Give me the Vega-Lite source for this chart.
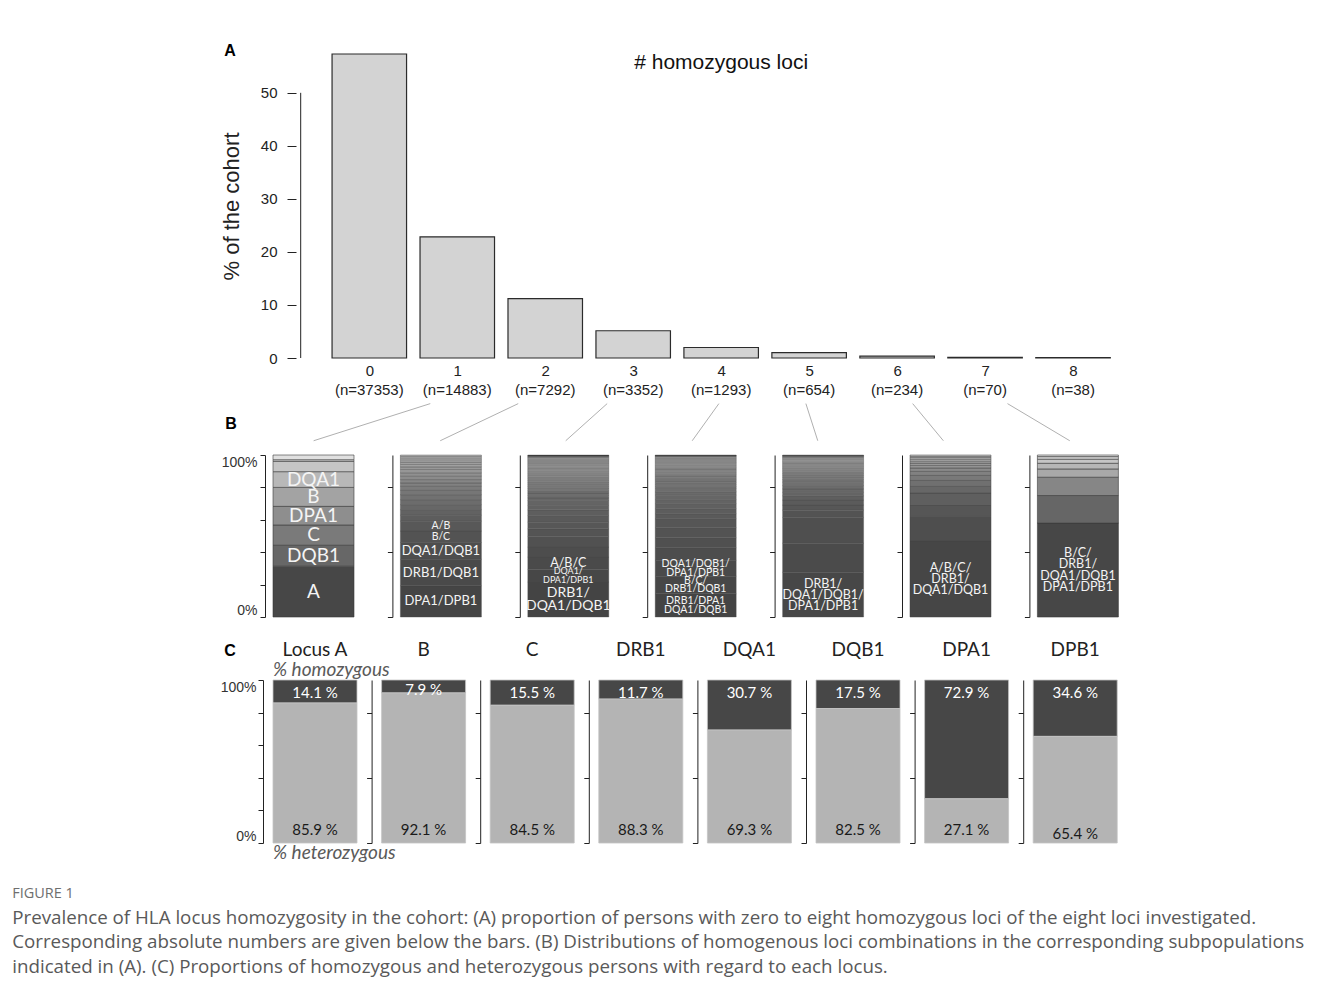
{
  "$schema": "https://vega.github.io/schema/vega-lite/v6.json",
  "padding": {"left": 12, "top": 42, "right": 5, "bottom": 5},
  "background": "white",
  "config": {
    "view": {"stroke": null},
    "font": "Liberation Sans",
    "axis": {"grid": false, "domainColor": "#222", "tickColor": "#222", "labelColor": "#222", "labelFont": "Liberation Sans", "titleFont": "Liberation Sans", "titleColor": "#222", "labelOverlap": false},
    "title": {"font": "Lato", "fontSize": 19, "fontWeight": "normal", "color": "#222", "offset": 20}
  },
  "title": {
    "text": "FIGURE 1",
    "subtitle": [
      "Prevalence of HLA locus homozygosity in the cohort: (A) proportion of persons with zero to eight homozygous loci of the eight loci investigated.",
      "Corresponding absolute numbers are given below the bars. (B) Distributions of homogenous loci combinations in the corresponding subpopulations",
      "indicated in (A). (C) Proportions of homozygous and heterozygous persons with regard to each locus."
    ],
    "orient": "bottom", "anchor": "start", "frame": "bounds", "dx": -208, "offset": 24,
    "font": "Open Sans", "fontSize": 14.5, "fontWeight": "normal", "color": "#6e6e6e",
    "subtitleFont": "Open Sans", "subtitleFontSize": 18.75, "subtitleColor": "#595959", "subtitleLineHeight": 24.5, "subtitlePadding": 7
  },
  "datasets": {
    "hist": [
      {"k": 0, "pct": 57.32, "n": 37353, "nlab": "(n=37353)"},
      {"k": 1, "pct": 22.84, "n": 14883, "nlab": "(n=14883)"},
      {"k": 2, "pct": 11.19, "n": 7292, "nlab": "(n=7292)"},
      {"k": 3, "pct": 5.14, "n": 3352, "nlab": "(n=3352)"},
      {"k": 4, "pct": 1.98, "n": 1293, "nlab": "(n=1293)"},
      {"k": 5, "pct": 1.00, "n": 654, "nlab": "(n=654)"},
      {"k": 6, "pct": 0.36, "n": 234, "nlab": "(n=234)"},
      {"k": 7, "pct": 0.11, "n": 70, "nlab": "(n=70)"},
      {"k": 8, "pct": 0.06, "n": 38, "nlab": "(n=38)"}
    ],
    "links": [
      {"k": 1, "from": 0.693, "to": -0.633},
      {"k": 2, "from": 1.693, "to": 0.806},
      {"k": 3, "from": 2.704, "to": 2.233},
      {"k": 4, "from": 3.974, "to": 3.671},
      {"k": 5, "from": 4.963, "to": 5.098},
      {"k": 6, "from": 6.177, "to": 6.526},
      {"k": 7, "from": 7.255, "to": 7.963}
    ],
    "segB": [
      {"p": 1, "i": 1, "v": 31.4, "label": "A"},
      {"p": 1, "i": 2, "v": 12.9, "label": "DQB1"},
      {"p": 1, "i": 3, "v": 12.5, "label": "C"},
      {"p": 1, "i": 4, "v": 11.5, "label": "DPA1"},
      {"p": 1, "i": 5, "v": 11.7, "label": "B"},
      {"p": 1, "i": 6, "v": 9.7, "label": "DQA1"},
      {"p": 1, "i": 7, "v": 6.4, "label": ""},
      {"p": 1, "i": 8, "v": 1.0, "label": ""},
      {"p": 1, "i": 9, "v": 2.9, "label": ""},

      {"p": 2, "i": 1, "v": 19.5, "label": "DPA1/DPB1"},
      {"p": 2, "i": 2, "v": 16.4, "label": "DRB1/DQB1"},
      {"p": 2, "i": 3, "v": 10.5, "label": "DQA1/DQB1"},
      {"p": 2, "i": 4, "v": 7.1, "label": "B/C"},
      {"p": 2, "i": 5, "v": 6.2, "label": "A/B"},
      {"p": 2, "i": 6, "v": 3.7, "label": ""},
      {"p": 2, "i": 7, "v": 3.5, "label": ""},
      {"p": 2, "i": 8, "v": 3.1, "label": ""},
      {"p": 2, "i": 9, "v": 3.1, "label": ""},
      {"p": 2, "i": 10, "v": 3.1, "label": ""},
      {"p": 2, "i": 11, "v": 2.7, "label": ""},
      {"p": 2, "i": 12, "v": 2.5, "label": ""},
      {"p": 2, "i": 13, "v": 2.1, "label": ""},
      {"p": 2, "i": 14, "v": 2.1, "label": ""},
      {"p": 2, "i": 15, "v": 2.1, "label": ""},
      {"p": 2, "i": 16, "v": 2.1, "label": ""},
      {"p": 2, "i": 17, "v": 2.1, "label": ""},
      {"p": 2, "i": 18, "v": 1.6, "label": ""},
      {"p": 2, "i": 19, "v": 1.6, "label": ""},
      {"p": 2, "i": 20, "v": 1.4, "label": ""},
      {"p": 2, "i": 21, "v": 1.4, "label": ""},
      {"p": 2, "i": 22, "v": 1.2, "label": ""},
      {"p": 2, "i": 23, "v": 1.0, "label": ""},
      {"p": 2, "i": 24, "v": 0.8, "label": ""},

      {"p": 3, "i": 1, "v": 21.6, "label": "DRB1/\nDQA1/DQB1"},
      {"p": 3, "i": 2, "v": 7.8, "label": "DQA1/\nDPA1/DPB1"},
      {"p": 3, "i": 3, "v": 7.6, "label": "A/B/C"},
      {"p": 3, "i": 4, "v": 6.2, "label": ""},
      {"p": 3, "i": 5, "v": 6.6, "label": ""},
      {"p": 3, "i": 6, "v": 4.7, "label": ""},
      {"p": 3, "i": 7, "v": 4.1, "label": ""},
      {"p": 3, "i": 8, "v": 4.1, "label": ""},
      {"p": 3, "i": 9, "v": 3.5, "label": ""},
      {"p": 3, "i": 10, "v": 2.7, "label": ""},
      {"p": 3, "i": 11, "v": 3.1, "label": ""},
      {"p": 3, "i": 12, "v": 1.6, "label": ""},
      {"p": 3, "i": 13, "v": 1.5, "label": ""},
      {"p": 3, "i": 14, "v": 1.5, "label": ""},
      {"p": 3, "i": 15, "v": 1.4, "label": ""},
      {"p": 3, "i": 16, "v": 1.4, "label": ""},
      {"p": 3, "i": 17, "v": 1.3, "label": ""},
      {"p": 3, "i": 18, "v": 1.3, "label": ""},
      {"p": 3, "i": 19, "v": 1.2, "label": ""},
      {"p": 3, "i": 20, "v": 1.2, "label": ""},
      {"p": 3, "i": 21, "v": 1.1, "label": ""},
      {"p": 3, "i": 22, "v": 1.1, "label": ""},
      {"p": 3, "i": 23, "v": 1.0, "label": ""},
      {"p": 3, "i": 24, "v": 1.0, "label": ""},
      {"p": 3, "i": 25, "v": 0.9, "label": ""},
      {"p": 3, "i": 26, "v": 0.9, "label": ""},
      {"p": 3, "i": 27, "v": 0.9, "label": ""},
      {"p": 3, "i": 28, "v": 0.8, "label": ""},
      {"p": 3, "i": 29, "v": 0.8, "label": ""},
      {"p": 3, "i": 30, "v": 0.8, "label": ""},
      {"p": 3, "i": 31, "v": 0.7, "label": ""},
      {"p": 3, "i": 32, "v": 0.7, "label": ""},
      {"p": 3, "i": 33, "v": 0.7, "label": ""},
      {"p": 3, "i": 34, "v": 0.6, "label": ""},
      {"p": 3, "i": 35, "v": 0.6, "label": ""},
      {"p": 3, "i": 36, "v": 0.6, "label": ""},
      {"p": 3, "i": 37, "v": 0.5, "label": ""},
      {"p": 3, "i": 38, "v": 0.5, "label": ""},
      {"p": 3, "i": 39, "v": 0.5, "label": ""},
      {"p": 3, "i": 40, "v": 0.5, "label": ""},
      {"p": 3, "i": 41, "v": 0.5, "label": ""},

      {"p": 4, "i": 1, "v": 14.4, "label": "DRB1/DPA1\nDQA1/DQB1"},
      {"p": 4, "i": 2, "v": 10.7, "label": "B/C/\nDRB1/DQB1"},
      {"p": 4, "i": 3, "v": 9.9, "label": "DQA1/DQB1/\nDPA1/DPB1"},
      {"p": 4, "i": 4, "v": 7.8, "label": ""},
      {"p": 4, "i": 5, "v": 6.2, "label": ""},
      {"p": 4, "i": 6, "v": 6.2, "label": ""},
      {"p": 4, "i": 7, "v": 5.5, "label": ""},
      {"p": 4, "i": 8, "v": 3.1, "label": ""},
      {"p": 4, "i": 9, "v": 3.1, "label": ""},
      {"p": 4, "i": 10, "v": 3.1, "label": ""},
      {"p": 4, "i": 11, "v": 2.5, "label": ""},
      {"p": 4, "i": 12, "v": 2.7, "label": ""},
      {"p": 4, "i": 13, "v": 2.1, "label": ""},
      {"p": 4, "i": 14, "v": 2.1, "label": ""},
      {"p": 4, "i": 15, "v": 1.2, "label": ""},
      {"p": 4, "i": 16, "v": 1.2, "label": ""},
      {"p": 4, "i": 17, "v": 1.1, "label": ""},
      {"p": 4, "i": 18, "v": 1.1, "label": ""},
      {"p": 4, "i": 19, "v": 1.0, "label": ""},
      {"p": 4, "i": 20, "v": 1.0, "label": ""},
      {"p": 4, "i": 21, "v": 1.0, "label": ""},
      {"p": 4, "i": 22, "v": 0.9, "label": ""},
      {"p": 4, "i": 23, "v": 0.9, "label": ""},
      {"p": 4, "i": 24, "v": 0.9, "label": ""},
      {"p": 4, "i": 25, "v": 0.8, "label": ""},
      {"p": 4, "i": 26, "v": 0.8, "label": ""},
      {"p": 4, "i": 27, "v": 0.8, "label": ""},
      {"p": 4, "i": 28, "v": 0.7, "label": ""},
      {"p": 4, "i": 29, "v": 0.7, "label": ""},
      {"p": 4, "i": 30, "v": 0.7, "label": ""},
      {"p": 4, "i": 31, "v": 0.7, "label": ""},
      {"p": 4, "i": 32, "v": 0.6, "label": ""},
      {"p": 4, "i": 33, "v": 0.6, "label": ""},
      {"p": 4, "i": 34, "v": 0.6, "label": ""},
      {"p": 4, "i": 35, "v": 0.6, "label": ""},
      {"p": 4, "i": 36, "v": 0.5, "label": ""},
      {"p": 4, "i": 37, "v": 0.5, "label": ""},
      {"p": 4, "i": 38, "v": 0.5, "label": ""},
      {"p": 4, "i": 39, "v": 0.5, "label": ""},
      {"p": 4, "i": 40, "v": 0.4, "label": ""},
      {"p": 4, "i": 41, "v": 0.3, "label": ""},

      {"p": 5, "i": 1, "v": 27.7, "label": "DRB1/\nDQA1/DQB1/\nDPA1/DPB1"},
      {"p": 5, "i": 2, "v": 17.9, "label": ""},
      {"p": 5, "i": 3, "v": 16.0, "label": ""},
      {"p": 5, "i": 4, "v": 4.5, "label": ""},
      {"p": 5, "i": 5, "v": 3.1, "label": ""},
      {"p": 5, "i": 6, "v": 3.1, "label": ""},
      {"p": 5, "i": 7, "v": 2.7, "label": ""},
      {"p": 5, "i": 8, "v": 2.1, "label": ""},
      {"p": 5, "i": 9, "v": 2.1, "label": ""},
      {"p": 5, "i": 10, "v": 2.1, "label": ""},
      {"p": 5, "i": 11, "v": 2.1, "label": ""},
      {"p": 5, "i": 12, "v": 1.6, "label": ""},
      {"p": 5, "i": 13, "v": 1.4, "label": ""},
      {"p": 5, "i": 14, "v": 1.2, "label": ""},
      {"p": 5, "i": 15, "v": 1.1, "label": ""},
      {"p": 5, "i": 16, "v": 1.1, "label": ""},
      {"p": 5, "i": 17, "v": 1.0, "label": ""},
      {"p": 5, "i": 18, "v": 1.0, "label": ""},
      {"p": 5, "i": 19, "v": 0.9, "label": ""},
      {"p": 5, "i": 20, "v": 0.9, "label": ""},
      {"p": 5, "i": 21, "v": 0.8, "label": ""},
      {"p": 5, "i": 22, "v": 0.8, "label": ""},
      {"p": 5, "i": 23, "v": 0.8, "label": ""},
      {"p": 5, "i": 24, "v": 0.7, "label": ""},
      {"p": 5, "i": 25, "v": 0.7, "label": ""},
      {"p": 5, "i": 26, "v": 0.6, "label": ""},
      {"p": 5, "i": 27, "v": 0.6, "label": ""},
      {"p": 5, "i": 28, "v": 0.5, "label": ""},
      {"p": 5, "i": 29, "v": 0.4, "label": ""},
      {"p": 5, "i": 30, "v": 0.4, "label": ""},
      {"p": 5, "i": 31, "v": 0.3, "label": ""},

      {"p": 6, "i": 1, "v": 46.8, "label": "A/B/C/\nDRB1/\nDQA1/DQB1"},
      {"p": 6, "i": 2, "v": 15.2, "label": ""},
      {"p": 6, "i": 3, "v": 7.2, "label": ""},
      {"p": 6, "i": 4, "v": 7.2, "label": ""},
      {"p": 6, "i": 5, "v": 4.1, "label": ""},
      {"p": 6, "i": 6, "v": 3.7, "label": ""},
      {"p": 6, "i": 7, "v": 3.1, "label": ""},
      {"p": 6, "i": 8, "v": 2.5, "label": ""},
      {"p": 6, "i": 9, "v": 2.1, "label": ""},
      {"p": 6, "i": 10, "v": 1.6, "label": ""},
      {"p": 6, "i": 11, "v": 1.4, "label": ""},
      {"p": 6, "i": 12, "v": 1.2, "label": ""},
      {"p": 6, "i": 13, "v": 1.2, "label": ""},
      {"p": 6, "i": 14, "v": 1.0, "label": ""},
      {"p": 6, "i": 15, "v": 0.8, "label": ""},
      {"p": 6, "i": 16, "v": 0.8, "label": ""},

      {"p": 7, "i": 1, "v": 57.9, "label": "B/C/\nDRB1/\nDQA1/DQB1\nDPA1/DPB1"},
      {"p": 7, "i": 2, "v": 17.0, "label": ""},
      {"p": 7, "i": 3, "v": 11.3, "label": ""},
      {"p": 7, "i": 4, "v": 5.1, "label": ""},
      {"p": 7, "i": 5, "v": 3.5, "label": ""},
      {"p": 7, "i": 6, "v": 2.5, "label": ""},
      {"p": 7, "i": 7, "v": 1.6, "label": ""},
      {"p": 7, "i": 8, "v": 1.0, "label": ""}
    ],
    "loci": [
      {"locus": "A", "status": "hom", "pct": 14.1, "lab": "14.1 %"},
      {"locus": "A", "status": "het", "pct": 85.9, "lab": "85.9 %"},
      {"locus": "B", "status": "hom", "pct": 7.9, "lab": "7.9 %"},
      {"locus": "B", "status": "het", "pct": 92.1, "lab": "92.1 %"},
      {"locus": "C", "status": "hom", "pct": 15.5, "lab": "15.5 %"},
      {"locus": "C", "status": "het", "pct": 84.5, "lab": "84.5 %"},
      {"locus": "DRB1", "status": "hom", "pct": 11.7, "lab": "11.7 %"},
      {"locus": "DRB1", "status": "het", "pct": 88.3, "lab": "88.3 %"},
      {"locus": "DQA1", "status": "hom", "pct": 30.7, "lab": "30.7 %"},
      {"locus": "DQA1", "status": "het", "pct": 69.3, "lab": "69.3 %"},
      {"locus": "DQB1", "status": "hom", "pct": 17.5, "lab": "17.5 %"},
      {"locus": "DQB1", "status": "het", "pct": 82.5, "lab": "82.5 %"},
      {"locus": "DPA1", "status": "hom", "pct": 72.9, "lab": "72.9 %"},
      {"locus": "DPA1", "status": "het", "pct": 27.1, "lab": "27.1 %"},
      {"locus": "DPB1", "status": "hom", "pct": 34.6, "lab": "34.6 %"},
      {"locus": "DPB1", "status": "het", "pct": 65.4, "lab": "65.4 %"}
    ]
  },
  "spacing": -27,
  "vconcat": [
    {
      "width": 871,
      "height": 304,
      "title": {"text": "A", "anchor": "start", "frame": "bounds", "font": "Liberation Sans", "fontSize": 16, "fontWeight": "bold", "color": "#000", "offset": -7, "dx": 4},
      "layer": [
        {
          "data": {"name": "hist"},
          "mark": {"type": "bar", "orient": "vertical", "width": 74.5, "fill": "#d3d3d3", "stroke": "#2b2b2b", "strokeWidth": 1.2},
          "encoding": {
            "x": {"field": "k", "type": "quantitative", "scale": {"domain": [-1.038, 8.75], "nice": false, "zero": false},
                  "axis": {"values": [0, 1, 2, 3, 4, 5, 6, 7, 8], "format": "d", "domain": false, "ticks": false, "tickSize": 0, "labelPadding": 5, "labelFontSize": 15, "title": null}},
            "y": {"field": "pct", "type": "quantitative", "scale": {"domain": [0, 57.32], "nice": false},
                  "axis": {"values": [0, 10, 20, 30, 40, 50], "offset": -23, "domain": false, "tickSize": 9, "labelPadding": 10, "labelFontSize": 15, "title": "% of the cohort", "titleFontSize": 22, "titleFontWeight": "normal", "titlePadding": 17}}
          }
        },
        {
          "data": {"name": "hist"},
          "mark": {"type": "text", "baseline": "middle", "dy": 32, "fontSize": 15, "color": "#222"},
          "encoding": {
            "x": {"field": "k", "type": "quantitative"},
            "y": {"datum": 0},
            "text": {"field": "nlab"}
          }
        },
        {
          "data": {"values": [{}]},
          "mark": {"type": "rule", "color": "#222", "strokeWidth": 1},
          "encoding": {
            "x": {"datum": -0.78},
            "y": {"datum": 0},
            "y2": {"datum": 50}
          }
        },
        {
          "data": {"values": [{}]},
          "mark": {"type": "text", "fontSize": 21, "color": "#111", "baseline": "middle", "font": "Liberation Sans"},
          "encoding": {
            "x": {"datum": 4},
            "y": {"datum": 55.7},
            "text": {"value": "# homozygous loci"}
          }
        },
        {
          "data": {"name": "links"},
          "mark": {"type": "rule", "color": "#b0b0b0", "strokeWidth": 1},
          "encoding": {
            "x": {"field": "from", "type": "quantitative"},
            "x2": {"field": "to"},
            "y": {"datum": -8.6},
            "y2": {"datum": -15.6}
          }
        }
      ]
    },
    {
      "spacing": 22,
      "vconcat": [
        {
          "title": {"text": "B", "anchor": "start", "frame": "bounds", "font": "Liberation Sans", "fontSize": 16, "fontWeight": "bold", "color": "#000", "offset": 1, "dx": 4},
          "data": {"name": "segB"},
          "bounds": "flush",
          "spacing": 46.4,
          "resolve": {"scale": {"color": "independent", "y": "independent", "x": "independent"}},
          "hconcat": [
            {
              "width": 81, "height": 162,
              "transform": [{"filter": "datum.p == 1"}],
              "encoding": {
                "x": {"field": "p", "type": "nominal", "axis": null, "scale": {"paddingInner": 0, "paddingOuter": 0}},
                "order": {"field": "i", "type": "quantitative"},
                "detail": {"field": "i", "type": "quantitative"}
              },
              "layer": [
                {"mark": {"type": "bar", "stroke": "#3a3a3a", "strokeWidth": 0.6},
                 "encoding": {
                   "y": {"field": "v", "type": "quantitative", "stack": "normalize", "scale": {"domain": [0, 1], "nice": false},
                         "axis": {"values": [0, 0.2, 0.4, 0.6, 0.8, 1], "labelExpr": "datum.value == 1 ? '100%' : datum.value == 0 ? '0%' : ''", "labelOverlap": false, "labelFlush": true, "offset": 8, "tickSize": 5, "labelPadding": 3, "labelFontSize": 14, "labelColor": "#333", "title": null}},
                   "color": {"field": "i", "type": "quantitative", "legend": null, "scale": {"domain": [1, 2, 6, 9], "range": ["#474747", "#676767", "#b8b8b8", "#e0e0e0"]}}}},
                {"mark": {"type": "text", "font": "Lato", "fontSize": 19, "color": "#f4f4f4", "lineBreak": "\n", "lineHeight": 17, "baseline": "middle"},
                 "encoding": {
                   "y": {"field": "v", "type": "quantitative", "stack": "normalize", "bandPosition": 0.5,
                         "axis": {"values": [0, 0.2, 0.4, 0.6, 0.8, 1], "labelExpr": "datum.value == 1 ? '100%' : datum.value == 0 ? '0%' : ''", "labelOverlap": false, "labelFlush": true, "offset": 8, "tickSize": 5, "labelPadding": 3, "labelFontSize": 14, "labelColor": "#333", "title": null}},
                   "text": {"field": "label"}}}
              ]
            },
            {
              "width": 81, "height": 162,
              "transform": [{"filter": "datum.p == 2"}],
              "encoding": {
                "x": {"field": "p", "type": "nominal", "axis": null, "scale": {"paddingInner": 0, "paddingOuter": 0}},
                "order": {"field": "i", "type": "quantitative"},
                "detail": {"field": "i", "type": "quantitative"}
              },
              "layer": [
                {"mark": {"type": "bar", "stroke": "#484848", "strokeWidth": 0.4},
                 "encoding": {
                   "y": {"field": "v", "type": "quantitative", "stack": "normalize", "scale": {"domain": [0, 1], "nice": false},
                         "axis": {"values": [0, 0.2, 0.4, 0.6, 0.8, 1], "labels": false, "offset": 8, "tickSize": 5, "title": null}},
                   "color": {"field": "i", "type": "quantitative", "legend": null, "scale": {"domain": [1, 24], "range": ["#454545", "#bcbcbc"]}}}},
                {"mark": {"type": "text", "font": "Lato", "fontSize": 13, "color": "#f4f4f4", "lineBreak": "\n", "lineHeight": 12, "baseline": "middle"},
                 "encoding": {
                   "y": {"field": "v", "type": "quantitative", "stack": "normalize", "bandPosition": 0.5},
                   "size": {"condition": {"test": "datum.i >= 4", "value": 10.5}, "value": 13},
                   "text": {"field": "label"}}}
              ]
            },
            {
              "width": 81, "height": 162,
              "transform": [{"filter": "datum.p == 3"}],
              "encoding": {
                "x": {"field": "p", "type": "nominal", "axis": null, "scale": {"paddingInner": 0, "paddingOuter": 0}},
                "order": {"field": "i", "type": "quantitative"},
                "detail": {"field": "i", "type": "quantitative"}
              },
              "layer": [
                {"mark": {"type": "bar", "stroke": "#4a4a4a", "strokeWidth": 0.35},
                 "encoding": {
                   "y": {"field": "v", "type": "quantitative", "stack": "normalize", "scale": {"domain": [0, 1], "nice": false},
                         "axis": {"values": [0, 0.2, 0.4, 0.6, 0.8, 1], "labels": false, "offset": 8, "tickSize": 5, "title": null}},
                   "color": {"field": "i", "type": "quantitative", "legend": null, "scale": {"domain": [1, 38, 41], "range": ["#444444", "#c4c4c4", "#0d0d0d"]}}}},
                {"mark": {"type": "text", "font": "Lato", "fontSize": 14, "color": "#f4f4f4", "lineBreak": "\n", "lineHeight": 13.5, "baseline": "middle", "dy": -6.75},
                 "encoding": {
                   "y": {"field": "v", "type": "quantitative", "stack": "normalize", "bandPosition": 0.5},
                   "text": {"condition": {"test": "datum.i == 1", "field": "label", "type": "nominal"}, "value": ""}}},
                {"mark": {"type": "text", "font": "Lato", "fontSize": 9, "color": "#f4f4f4", "lineBreak": "\n", "lineHeight": 8.5, "baseline": "middle", "dy": -4.25},
                 "encoding": {
                   "y": {"field": "v", "type": "quantitative", "stack": "normalize", "bandPosition": 0.5},
                   "text": {"condition": {"test": "datum.i == 2", "field": "label", "type": "nominal"}, "value": ""}}},
                {"mark": {"type": "text", "font": "Lato", "fontSize": 12.5, "color": "#f4f4f4", "baseline": "middle"},
                 "encoding": {
                   "y": {"field": "v", "type": "quantitative", "stack": "normalize", "bandPosition": 0.5},
                   "text": {"condition": {"test": "datum.i == 3", "field": "label", "type": "nominal"}, "value": ""}}}
              ]
            },
            {
              "width": 81, "height": 162,
              "transform": [{"filter": "datum.p == 4"}],
              "encoding": {
                "x": {"field": "p", "type": "nominal", "axis": null, "scale": {"paddingInner": 0, "paddingOuter": 0}},
                "order": {"field": "i", "type": "quantitative"},
                "detail": {"field": "i", "type": "quantitative"}
              },
              "layer": [
                {"mark": {"type": "bar", "stroke": "#4a4a4a", "strokeWidth": 0.35},
                 "encoding": {
                   "y": {"field": "v", "type": "quantitative", "stack": "normalize", "scale": {"domain": [0, 1], "nice": false},
                         "axis": {"values": [0, 0.2, 0.4, 0.6, 0.8, 1], "labels": false, "offset": 8, "tickSize": 5, "title": null}},
                   "color": {"field": "i", "type": "quantitative", "legend": null, "scale": {"domain": [1, 38, 41], "range": ["#444444", "#c0c0c0", "#0d0d0d"]}}}},
                {"mark": {"type": "text", "font": "Lato", "fontSize": 10.5, "color": "#f4f4f4", "lineBreak": "\n", "lineHeight": 8.5, "baseline": "middle", "dy": -4.25},
                 "encoding": {
                   "y": {"field": "v", "type": "quantitative", "stack": "normalize", "bandPosition": 0.5},
                   "text": {"field": "label"}}}
              ]
            },
            {
              "width": 81, "height": 162,
              "transform": [{"filter": "datum.p == 5"}],
              "encoding": {
                "x": {"field": "p", "type": "nominal", "axis": null, "scale": {"paddingInner": 0, "paddingOuter": 0}},
                "order": {"field": "i", "type": "quantitative"},
                "detail": {"field": "i", "type": "quantitative"}
              },
              "layer": [
                {"mark": {"type": "bar", "stroke": "#4a4a4a", "strokeWidth": 0.35},
                 "encoding": {
                   "y": {"field": "v", "type": "quantitative", "stack": "normalize", "scale": {"domain": [0, 1], "nice": false},
                         "axis": {"values": [0, 0.2, 0.4, 0.6, 0.8, 1], "labels": false, "offset": 8, "tickSize": 5, "title": null}},
                   "color": {"field": "i", "type": "quantitative", "legend": null, "scale": {"domain": [1, 27, 31], "range": ["#474747", "#b8b8b8", "#2a2a2a"]}}}},
                {"mark": {"type": "text", "font": "Lato", "fontSize": 12.5, "color": "#f4f4f4", "lineBreak": "\n", "lineHeight": 11, "baseline": "middle", "dy": -11},
                 "encoding": {
                   "y": {"field": "v", "type": "quantitative", "stack": "normalize", "bandPosition": 0.5},
                   "text": {"field": "label"}}}
              ]
            },
            {
              "width": 81, "height": 162,
              "transform": [{"filter": "datum.p == 6"}],
              "encoding": {
                "x": {"field": "p", "type": "nominal", "axis": null, "scale": {"paddingInner": 0, "paddingOuter": 0}},
                "order": {"field": "i", "type": "quantitative"},
                "detail": {"field": "i", "type": "quantitative"}
              },
              "layer": [
                {"mark": {"type": "bar", "stroke": "#444444", "strokeWidth": 0.5},
                 "encoding": {
                   "y": {"field": "v", "type": "quantitative", "stack": "normalize", "scale": {"domain": [0, 1], "nice": false},
                         "axis": {"values": [0, 0.2, 0.4, 0.6, 0.8, 1], "labels": false, "offset": 8, "tickSize": 5, "title": null}},
                   "color": {"field": "i", "type": "quantitative", "legend": null, "scale": {"domain": [1, 16], "range": ["#464646", "#cccccc"]}}}},
                {"mark": {"type": "text", "font": "Lato", "fontSize": 12.5, "color": "#f4f4f4", "lineBreak": "\n", "lineHeight": 11, "baseline": "middle", "dy": -11},
                 "encoding": {
                   "y": {"field": "v", "type": "quantitative", "stack": "normalize", "bandPosition": 0.5},
                   "text": {"field": "label"}}}
              ]
            },
            {
              "width": 81, "height": 162,
              "transform": [{"filter": "datum.p == 7"}],
              "encoding": {
                "x": {"field": "p", "type": "nominal", "axis": null, "scale": {"paddingInner": 0, "paddingOuter": 0}},
                "order": {"field": "i", "type": "quantitative"},
                "detail": {"field": "i", "type": "quantitative"}
              },
              "layer": [
                {"mark": {"type": "bar", "stroke": "#3a3a3a", "strokeWidth": 0.6},
                 "encoding": {
                   "y": {"field": "v", "type": "quantitative", "stack": "normalize", "scale": {"domain": [0, 1], "nice": false},
                         "axis": {"values": [0, 0.2, 0.4, 0.6, 0.8, 1], "labels": false, "offset": 8, "tickSize": 5, "title": null}},
                   "color": {"field": "i", "type": "quantitative", "legend": null, "scale": {"domain": [1, 4, 8], "range": ["#474747", "#a8a8a8", "#e2e2e2"]}}}},
                {"mark": {"type": "text", "font": "Lato", "fontSize": 12.5, "color": "#f4f4f4", "lineBreak": "\n", "lineHeight": 11.5, "baseline": "middle", "dy": -17.25},
                 "encoding": {
                   "y": {"field": "v", "type": "quantitative", "stack": "normalize", "bandPosition": 0.5},
                   "text": {"field": "label"}}}
              ]
            }
          ]
        },
        {
          "title": {"text": "C", "anchor": "start", "frame": "bounds", "font": "Liberation Sans", "fontSize": 16, "fontWeight": "bold", "color": "#000", "offset": -18, "dx": 4},
          "data": {"name": "loci"},
          "bounds": "flush",
          "spacing": 24.6,
          "resolve": {"scale": {"color": "independent", "y": "independent", "x": "independent"}},
          "hconcat": [
            {
              "width": 84, "height": 163,
              "title": {"text": "Locus A", "offset": 1},
              "transform": [{"filter": "datum.locus == 'A'"}],
              "encoding": {"x": {"field": "locus", "type": "nominal", "axis": null, "scale": {"paddingInner": 0, "paddingOuter": 0}}},
              "layer": [
                {"mark": {"type": "bar", "stroke": "#c4c4c4", "strokeWidth": 0.8},
                 "encoding": {
                   "y": {"field": "pct", "type": "quantitative", "stack": "zero", "scale": {"domain": [0, 100], "nice": false},
                         "axis": {"values": [0, 20, 40, 60, 80, 100], "labelExpr": "datum.value == 100 ? '100%' : datum.value == 0 ? '0%' : ''", "labelOverlap": false, "labelFlush": true, "offset": 10, "tickSize": 5, "labelPadding": 2, "labelFontSize": 14, "labelColor": "#333", "title": null}},
                   "color": {"field": "status", "type": "nominal", "legend": null, "scale": {"domain": ["het", "hom"], "range": ["#b4b4b4", "#474747"]}},
                   "order": {"field": "status", "type": "ordinal"}}},
                {"transform": [{"filter": "datum.status == 'hom'"}],
                 "mark": {"type": "text", "font": "Lato", "fontSize": 15, "color": "#ffffff", "baseline": "middle", "dy": 13},
                 "encoding": {"y": {"datum": 100, "axis": {"values": [0, 20, 40, 60, 80, 100], "labelExpr": "datum.value == 100 ? '100%' : datum.value == 0 ? '0%' : ''", "labelOverlap": false, "labelFlush": true, "offset": 10, "tickSize": 5, "labelPadding": 2, "labelFontSize": 14, "labelColor": "#333", "title": null}}, "text": {"field": "lab"}}},
                {"transform": [{"filter": "datum.status == 'het'"}],
                 "mark": {"type": "text", "font": "Lato", "fontSize": 15, "color": "#1a1a1a", "baseline": "middle", "dy": -13},
                 "encoding": {"y": {"datum": 0, "axis": {"values": [0, 20, 40, 60, 80, 100], "labelExpr": "datum.value == 100 ? '100%' : datum.value == 0 ? '0%' : ''", "labelOverlap": false, "labelFlush": true, "offset": 10, "tickSize": 5, "labelPadding": 2, "labelFontSize": 14, "labelColor": "#333", "title": null}}, "text": {"field": "lab"}}},
                {"transform": [{"filter": "datum.status == 'hom'"}],
                 "mark": {"type": "text", "font": "Lato", "fontStyle": "italic", "fontSize": 19, "color": "#5a5a5a", "align": "left", "baseline": "alphabetic", "dy": -4},
                 "encoding": {"x": {"field": "locus", "type": "nominal", "bandPosition": 0, "axis": null}, "y": {"datum": 100, "axis": {"values": [0, 20, 40, 60, 80, 100], "labelExpr": "datum.value == 100 ? '100%' : datum.value == 0 ? '0%' : ''", "labelOverlap": false, "labelFlush": true, "offset": 10, "tickSize": 5, "labelPadding": 2, "labelFontSize": 14, "labelColor": "#333", "title": null}}, "text": {"value": "% homozygous"}}},
                {"transform": [{"filter": "datum.status == 'het'"}],
                 "mark": {"type": "text", "font": "Lato", "fontStyle": "italic", "fontSize": 19, "color": "#5a5a5a", "align": "left", "baseline": "alphabetic", "dy": 16},
                 "encoding": {"x": {"field": "locus", "type": "nominal", "bandPosition": 0, "axis": null}, "y": {"datum": 0, "axis": {"values": [0, 20, 40, 60, 80, 100], "labelExpr": "datum.value == 100 ? '100%' : datum.value == 0 ? '0%' : ''", "labelOverlap": false, "labelFlush": true, "offset": 10, "tickSize": 5, "labelPadding": 2, "labelFontSize": 14, "labelColor": "#333", "title": null}}, "text": {"value": "% heterozygous"}}}
              ]
            },
            {
              "width": 84, "height": 163,
              "title": {"text": "B"},
              "transform": [{"filter": "datum.locus == 'B'"}],
              "encoding": {"x": {"field": "locus", "type": "nominal", "axis": null, "scale": {"paddingInner": 0, "paddingOuter": 0}}},
              "layer": [
                {"mark": {"type": "bar", "stroke": "#c4c4c4", "strokeWidth": 0.8},
                 "encoding": {
                   "y": {"field": "pct", "type": "quantitative", "stack": "zero", "scale": {"domain": [0, 100], "nice": false},
                         "axis": {"values": [0, 20, 40, 60, 80, 100], "labels": false, "offset": 10, "tickSize": 5, "title": null}},
                   "color": {"field": "status", "type": "nominal", "legend": null, "scale": {"domain": ["het", "hom"], "range": ["#b4b4b4", "#474747"]}},
                   "order": {"field": "status", "type": "ordinal"}}},
                {"transform": [{"filter": "datum.status == 'hom'"}],
                 "mark": {"type": "text", "font": "Lato", "fontSize": 15, "color": "#ffffff", "baseline": "middle", "dy": 10},
                 "encoding": {"y": {"datum": 100}, "text": {"field": "lab"}}},
                {"transform": [{"filter": "datum.status == 'het'"}],
                 "mark": {"type": "text", "font": "Lato", "fontSize": 15, "color": "#1a1a1a", "baseline": "middle", "dy": -13},
                 "encoding": {"y": {"datum": 0}, "text": {"field": "lab"}}}
              ]
            },
            {
              "width": 84, "height": 163,
              "title": {"text": "C"},
              "transform": [{"filter": "datum.locus == 'C'"}],
              "encoding": {"x": {"field": "locus", "type": "nominal", "axis": null, "scale": {"paddingInner": 0, "paddingOuter": 0}}},
              "layer": [
                {"mark": {"type": "bar", "stroke": "#c4c4c4", "strokeWidth": 0.8},
                 "encoding": {
                   "y": {"field": "pct", "type": "quantitative", "stack": "zero", "scale": {"domain": [0, 100], "nice": false},
                         "axis": {"values": [0, 20, 40, 60, 80, 100], "labels": false, "offset": 10, "tickSize": 5, "title": null}},
                   "color": {"field": "status", "type": "nominal", "legend": null, "scale": {"domain": ["het", "hom"], "range": ["#b4b4b4", "#474747"]}},
                   "order": {"field": "status", "type": "ordinal"}}},
                {"transform": [{"filter": "datum.status == 'hom'"}],
                 "mark": {"type": "text", "font": "Lato", "fontSize": 15, "color": "#ffffff", "baseline": "middle", "dy": 13},
                 "encoding": {"y": {"datum": 100}, "text": {"field": "lab"}}},
                {"transform": [{"filter": "datum.status == 'het'"}],
                 "mark": {"type": "text", "font": "Lato", "fontSize": 15, "color": "#1a1a1a", "baseline": "middle", "dy": -13},
                 "encoding": {"y": {"datum": 0}, "text": {"field": "lab"}}}
              ]
            },
            {
              "width": 84, "height": 163,
              "title": {"text": "DRB1"},
              "transform": [{"filter": "datum.locus == 'DRB1'"}],
              "encoding": {"x": {"field": "locus", "type": "nominal", "axis": null, "scale": {"paddingInner": 0, "paddingOuter": 0}}},
              "layer": [
                {"mark": {"type": "bar", "stroke": "#c4c4c4", "strokeWidth": 0.8},
                 "encoding": {
                   "y": {"field": "pct", "type": "quantitative", "stack": "zero", "scale": {"domain": [0, 100], "nice": false},
                         "axis": {"values": [0, 20, 40, 60, 80, 100], "labels": false, "offset": 10, "tickSize": 5, "title": null}},
                   "color": {"field": "status", "type": "nominal", "legend": null, "scale": {"domain": ["het", "hom"], "range": ["#b4b4b4", "#474747"]}},
                   "order": {"field": "status", "type": "ordinal"}}},
                {"transform": [{"filter": "datum.status == 'hom'"}],
                 "mark": {"type": "text", "font": "Lato", "fontSize": 15, "color": "#ffffff", "baseline": "middle", "dy": 13},
                 "encoding": {"y": {"datum": 100}, "text": {"field": "lab"}}},
                {"transform": [{"filter": "datum.status == 'het'"}],
                 "mark": {"type": "text", "font": "Lato", "fontSize": 15, "color": "#1a1a1a", "baseline": "middle", "dy": -13},
                 "encoding": {"y": {"datum": 0}, "text": {"field": "lab"}}}
              ]
            },
            {
              "width": 84, "height": 163,
              "title": {"text": "DQA1"},
              "transform": [{"filter": "datum.locus == 'DQA1'"}],
              "encoding": {"x": {"field": "locus", "type": "nominal", "axis": null, "scale": {"paddingInner": 0, "paddingOuter": 0}}},
              "layer": [
                {"mark": {"type": "bar", "stroke": "#c4c4c4", "strokeWidth": 0.8},
                 "encoding": {
                   "y": {"field": "pct", "type": "quantitative", "stack": "zero", "scale": {"domain": [0, 100], "nice": false},
                         "axis": {"values": [0, 20, 40, 60, 80, 100], "labels": false, "offset": 10, "tickSize": 5, "title": null}},
                   "color": {"field": "status", "type": "nominal", "legend": null, "scale": {"domain": ["het", "hom"], "range": ["#b4b4b4", "#474747"]}},
                   "order": {"field": "status", "type": "ordinal"}}},
                {"transform": [{"filter": "datum.status == 'hom'"}],
                 "mark": {"type": "text", "font": "Lato", "fontSize": 15, "color": "#ffffff", "baseline": "middle", "dy": 13},
                 "encoding": {"y": {"datum": 100}, "text": {"field": "lab"}}},
                {"transform": [{"filter": "datum.status == 'het'"}],
                 "mark": {"type": "text", "font": "Lato", "fontSize": 15, "color": "#1a1a1a", "baseline": "middle", "dy": -13},
                 "encoding": {"y": {"datum": 0}, "text": {"field": "lab"}}}
              ]
            },
            {
              "width": 84, "height": 163,
              "title": {"text": "DQB1"},
              "transform": [{"filter": "datum.locus == 'DQB1'"}],
              "encoding": {"x": {"field": "locus", "type": "nominal", "axis": null, "scale": {"paddingInner": 0, "paddingOuter": 0}}},
              "layer": [
                {"mark": {"type": "bar", "stroke": "#c4c4c4", "strokeWidth": 0.8},
                 "encoding": {
                   "y": {"field": "pct", "type": "quantitative", "stack": "zero", "scale": {"domain": [0, 100], "nice": false},
                         "axis": {"values": [0, 20, 40, 60, 80, 100], "labels": false, "offset": 10, "tickSize": 5, "title": null}},
                   "color": {"field": "status", "type": "nominal", "legend": null, "scale": {"domain": ["het", "hom"], "range": ["#b4b4b4", "#474747"]}},
                   "order": {"field": "status", "type": "ordinal"}}},
                {"transform": [{"filter": "datum.status == 'hom'"}],
                 "mark": {"type": "text", "font": "Lato", "fontSize": 15, "color": "#ffffff", "baseline": "middle", "dy": 13},
                 "encoding": {"y": {"datum": 100}, "text": {"field": "lab"}}},
                {"transform": [{"filter": "datum.status == 'het'"}],
                 "mark": {"type": "text", "font": "Lato", "fontSize": 15, "color": "#1a1a1a", "baseline": "middle", "dy": -13},
                 "encoding": {"y": {"datum": 0}, "text": {"field": "lab"}}}
              ]
            },
            {
              "width": 84, "height": 163,
              "title": {"text": "DPA1"},
              "transform": [{"filter": "datum.locus == 'DPA1'"}],
              "encoding": {"x": {"field": "locus", "type": "nominal", "axis": null, "scale": {"paddingInner": 0, "paddingOuter": 0}}},
              "layer": [
                {"mark": {"type": "bar", "stroke": "#c4c4c4", "strokeWidth": 0.8},
                 "encoding": {
                   "y": {"field": "pct", "type": "quantitative", "stack": "zero", "scale": {"domain": [0, 100], "nice": false},
                         "axis": {"values": [0, 20, 40, 60, 80, 100], "labels": false, "offset": 10, "tickSize": 5, "title": null}},
                   "color": {"field": "status", "type": "nominal", "legend": null, "scale": {"domain": ["het", "hom"], "range": ["#b4b4b4", "#474747"]}},
                   "order": {"field": "status", "type": "ordinal"}}},
                {"transform": [{"filter": "datum.status == 'hom'"}],
                 "mark": {"type": "text", "font": "Lato", "fontSize": 15, "color": "#ffffff", "baseline": "middle", "dy": 13},
                 "encoding": {"y": {"datum": 100}, "text": {"field": "lab"}}},
                {"transform": [{"filter": "datum.status == 'het'"}],
                 "mark": {"type": "text", "font": "Lato", "fontSize": 15, "color": "#1a1a1a", "baseline": "middle", "dy": -13},
                 "encoding": {"y": {"datum": 0}, "text": {"field": "lab"}}}
              ]
            },
            {
              "width": 84, "height": 163,
              "title": {"text": "DPB1"},
              "transform": [{"filter": "datum.locus == 'DPB1'"}],
              "encoding": {"x": {"field": "locus", "type": "nominal", "axis": null, "scale": {"paddingInner": 0, "paddingOuter": 0}}},
              "layer": [
                {"mark": {"type": "bar", "stroke": "#c4c4c4", "strokeWidth": 0.8},
                 "encoding": {
                   "y": {"field": "pct", "type": "quantitative", "stack": "zero", "scale": {"domain": [0, 100], "nice": false},
                         "axis": {"values": [0, 20, 40, 60, 80, 100], "labels": false, "offset": 10, "tickSize": 5, "title": null}},
                   "color": {"field": "status", "type": "nominal", "legend": null, "scale": {"domain": ["het", "hom"], "range": ["#b4b4b4", "#474747"]}},
                   "order": {"field": "status", "type": "ordinal"}}},
                {"transform": [{"filter": "datum.status == 'hom'"}],
                 "mark": {"type": "text", "font": "Lato", "fontSize": 15, "color": "#ffffff", "baseline": "middle", "dy": 13},
                 "encoding": {"y": {"datum": 100}, "text": {"field": "lab"}}},
                {"transform": [{"filter": "datum.status == 'het'"}],
                 "mark": {"type": "text", "font": "Lato", "fontSize": 15, "color": "#1a1a1a", "baseline": "middle", "dy": -9},
                 "encoding": {"y": {"datum": 0}, "text": {"field": "lab"}}}
              ]
            }
          ]
        }
      ]
    }
  ]
}
